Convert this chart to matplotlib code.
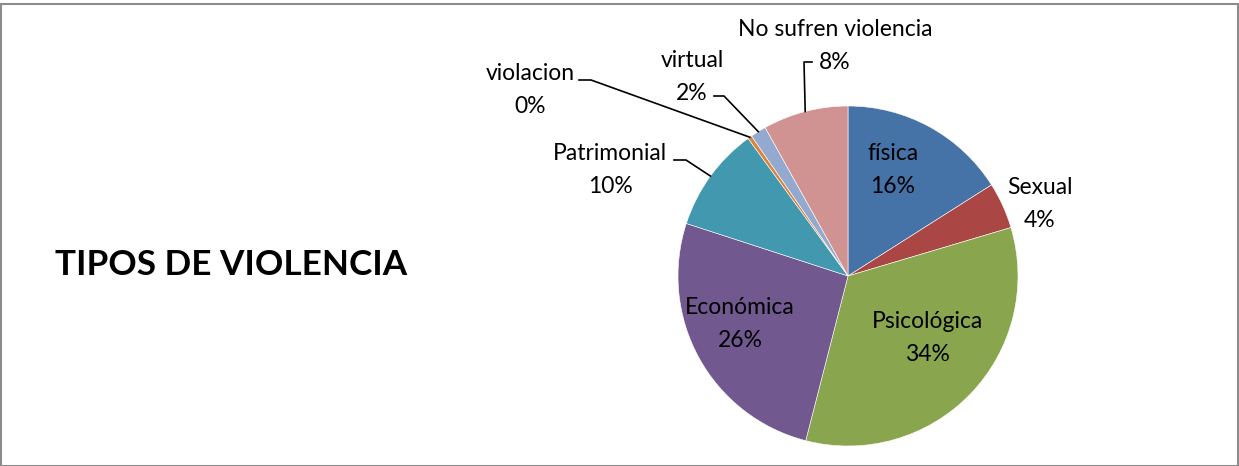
import numpy as np
import matplotlib.pyplot as plt
from matplotlib.patches import Rectangle

# Tipos de violencia (porcentaje)
categorias = ["física", "Sexual", "Psicológica", "Económica", "Patrimonial",
              "violacion", "virtual", "No sufren violencia"]
valores = [16.0, 4.4, 33.6, 26.0, 10.0, 0.4, 1.5, 8.1]
colores = ["#4572A7", "#AA4643", "#89A54E", "#71588F", "#4198AF",
           "#DB843D", "#93A9CF", "#D19392"]

W, H = 1239, 466
fig = plt.figure(figsize=(W / 100, H / 100), dpi=100)
ax = fig.add_axes([0, 0, 1, 1])

# marco del gráfico
fig.patches.append(Rectangle((0.5 / W, 0), (W - 2) / W, (H - 3.5) / H,
                             transform=fig.transFigure, fill=False,
                             edgecolor="#8c8c8c", linewidth=1.5))

cx, cy, r = 848, H - 276, 170
wedges, _ = ax.pie(valores, colors=colores, startangle=90, counterclock=False,
                   center=(cx, cy), radius=r, frame=True,
                   wedgeprops=dict(edgecolor="white", linewidth=0.4))
ax.set_xlim(0, W)
ax.set_ylim(0, H)
ax.set_aspect("equal")
ax.axis("off")

fuente = "Lato"
fs = 16.5
ls = 1.65

# posiciones de etiquetas (pixeles, y desde arriba)
dentro = {0: (893, 170), 2: (927, 338), 3: (740, 324)}
fuera = {
    1: ((1040, 204), None),
    4: ((610, 170), [(674, 160), (686, 160)]),
    5: ((530, 90), [(579, 80), (591, 80)]),
    6: ((692, 77), [(714, 96), (724, 96)]),
    7: ((835, 46), [(812, 62), (804, 62)]),
}

total = sum(valores)
for i, w in enumerate(wedges):
    pct = round(valores[i] / total * 100)
    txt = f"{categorias[i]}\n{pct}%"
    if i in dentro:
        x, y = dentro[i]
        ax.text(x, H - y, txt, ha="center", va="center", fontsize=fs,
                family=fuente, linespacing=ls)
    else:
        (x, y), stub = fuera[i]
        ax.text(x, H - y, txt, ha="center", va="center", fontsize=fs,
                family=fuente, linespacing=ls)
        if stub:
            ang = np.deg2rad((w.theta1 + w.theta2) / 2)
            ex, ey = cx + r * np.cos(ang), cy + r * np.sin(ang)
            xs = [p[0] for p in stub] + [ex]
            ys = [H - p[1] for p in stub] + [ey]
            ax.plot(xs, ys, color="black", linewidth=1.2)

ax.text(55, H - 265, "TIPOS DE VIOLENCIA", fontsize=25.3, fontweight="bold",
        family=fuente, ha="left", va="center")

fig.savefig("out.png", dpi=100)
